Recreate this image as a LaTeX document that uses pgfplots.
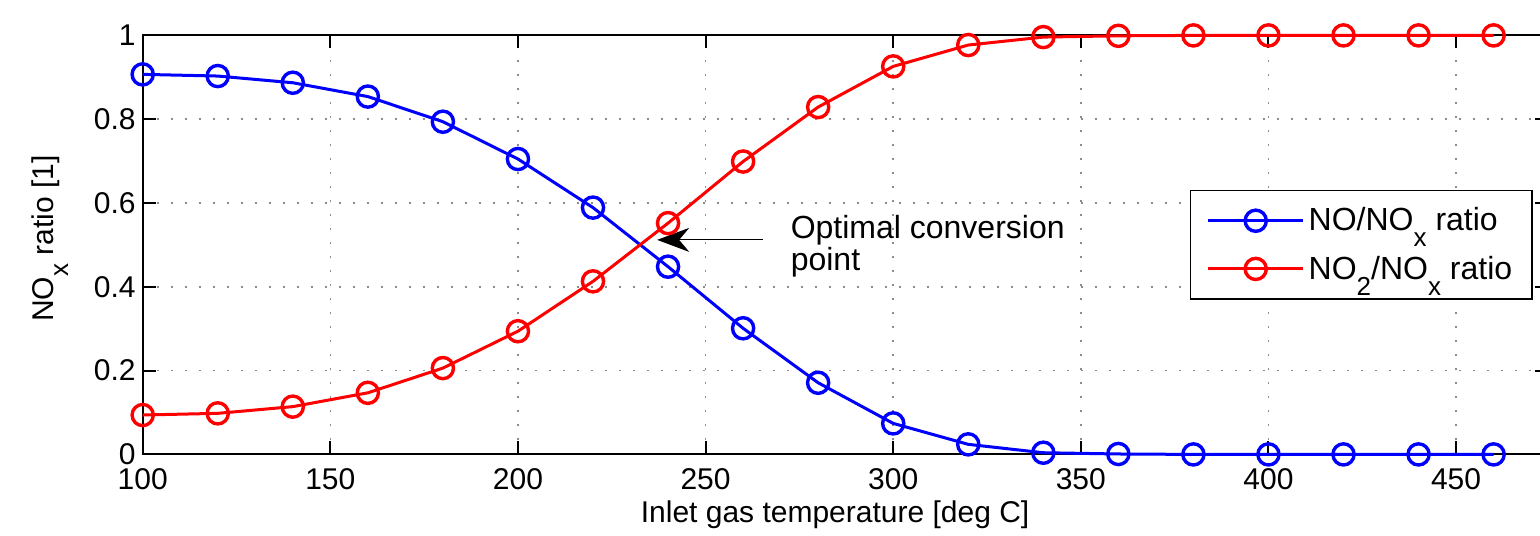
\documentclass[border=0pt]{standalone}
\usepackage{fontspec}
\setmainfont{Liberation Sans}
\usepackage{pgfplots}
\pgfplotsset{compat=1.18}
\usetikzlibrary{arrows.meta}
\newcommand{\sub}[1]{\raisebox{-0.5em}{\fontsize{13}{13}\selectfont #1}}
\begin{document}
\begin{tikzpicture}
\begin{axis}[
  at={(0,0)}, anchor=south west,
  scale only axis, width=702.65pt, height=209.5pt,
  xmin=100, xmax=474.5, ymin=0, ymax=1,
  xtick={100,150,200,250,300,350,400,450},
  ytick={0,0.2,0.4,0.6,0.8,1},
  clip=false,
  tick align=inside, major tick length=6.5pt,
  grid=major,
  major grid style={dash pattern=on 1pt off 6pt, line width=0.8pt, color=black!45},
  axis line style={line width=1pt, black},
  every tick/.style={black, line width=1pt},
  tick label style={font=\fontsize{15}{18}\selectfont},
  /pgf/number format/assume math mode=true,
  xticklabel style={yshift=-3.5pt},
  xlabel={Inlet gas temperature [deg C]},
  ylabel={NO\sub{x} ratio [1]},
  label style={font=\fontsize{15}{18}\selectfont},
  xlabel style={at={(axis description cs:0.4927,-0.1635)}, anchor=base},
  ylabel style={at={(axis description cs:-0.0638,0.515)}, anchor=base},
  legend image code/.code={
    \draw[mark repeat=2,mark phase=2,#1] plot coordinates {(0pt,0pt) (23.75pt,0pt) (47.5pt,0pt)};
  },
  legend cell align=left,
  legend style={at={(axis description cs:0.9893,0.6313)}, anchor=north east,
    draw=black, line width=0.75pt, font=\fontsize{16}{19}\selectfont,
    inner xsep=8pt, inner ysep=6.5pt, row sep=7pt,
    nodes={inner sep=2pt}},
]
\addplot[color={rgb,255:red,0;green,0;blue,255}, line width=1.5pt, mark=o, mark size=5.3pt, mark options={solid, line width=1.7pt}] coordinates {
(100,0.907)(120,0.903)(140,0.887)(160,0.854)(180,0.794)(200,0.705)(220,0.589)(240,0.448)(260,0.301)(280,0.171)(300,0.074)(320,0.024)(340,0.004)(360,0.001)(380,0)(400,0)(420,0)(440,0)(460,0)
};
\addlegendentry{NO/NO\sub{x} ratio}
\addplot[color={rgb,255:red,255;green,0;blue,0}, line width=1.5pt, mark=o, mark size=5.3pt, mark options={solid, line width=1.7pt}] coordinates {
(100,0.094)(120,0.098)(140,0.114)(160,0.147)(180,0.206)(200,0.294)(220,0.413)(240,0.552)(260,0.699)(280,0.829)(300,0.926)(320,0.977)(340,0.996)(360,0.999)(380,1)(400,1)(420,1)(440,1)(460,1)
};
\addlegendentry{NO\sub{2}/NO\sub{x} ratio}
\draw[-{Stealth[length=16pt,width=12pt,inset=5pt]}, line width=0.6pt, black] (axis cs:265.3,0.512) -- (axis cs:237.1,0.512);
\node[anchor=base west, font=\fontsize{16}{19}\selectfont, inner sep=0pt] at (axis cs:272.6,0.516) {Optimal conversion};
\node[anchor=base west, font=\fontsize{16}{19}\selectfont, inner sep=0pt] at (axis cs:272.6,0.440) {point};
\end{axis}
\pgfresetboundingbox
\useasboundingbox (-71.35pt,-40.75pt) rectangle (698.65pt,227.2pt);
\end{tikzpicture}
\end{document}
